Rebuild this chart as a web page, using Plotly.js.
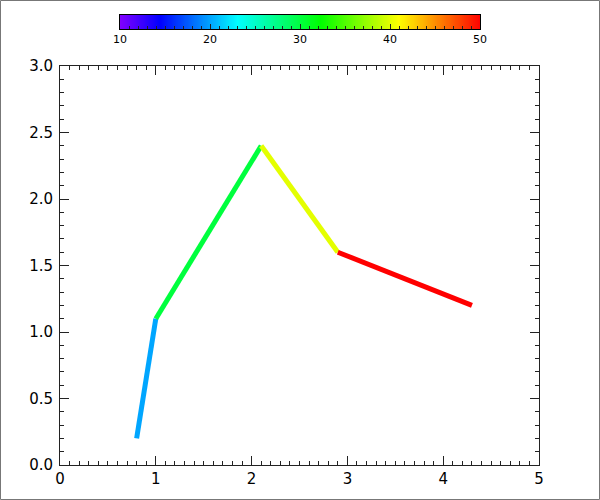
<!DOCTYPE html>
<html>
<head>
<meta charset="utf-8">
<script src="https://cdn.plot.ly/plotly-3.0.1.min.js"></script>
<style>html,body{margin:0;padding:0;background:#fff;}#chart{width:600px;height:500px;}</style>
</head>
<body>
<div id="chart"></div>
<script>
// Data
const xPoints = [0.8, 1.0, 2.1, 2.9, 4.3];
const yPoints = [0.2, 1.1, 2.4, 1.6, 1.2];
const segmentValues = [20, 30, 40, 50];
const cbarMin = 10, cbarMax = 50;
const cbarTicks = [10, 20, 30, 40, 50];

const colorscale = [
  [0.0, '#8000ff'],
  [0.11, '#0000ff'],
  [0.325, '#00ffff'],
  [0.556, '#00ff00'],
  [0.773, '#ffff00'],
  [1.0, '#ff0000']
];

function hexToRgb(h){ return [parseInt(h.slice(1,3),16), parseInt(h.slice(3,5),16), parseInt(h.slice(5,7),16)]; }
function colorFor(v){
  let t = (v - cbarMin) / (cbarMax - cbarMin);
  t = Math.max(0, Math.min(1, t));
  for (let i = 0; i < colorscale.length - 1; i++){
    const [a, ca] = colorscale[i], [b, cb] = colorscale[i+1];
    if (t >= a && t <= b){
      const f = (t - a) / (b - a);
      const A = hexToRgb(ca), B = hexToRgb(cb);
      const c = A.map((x, k) => Math.round(x + (B[k] - x) * f));
      return 'rgb(' + c.join(',') + ')';
    }
  }
  return colorscale[colorscale.length-1][1];
}

const traces = [];
for (let i = 0; i < segmentValues.length; i++){
  traces.push({
    type: 'scatter', mode: 'lines',
    x: [xPoints[i], xPoints[i+1]],
    y: [yPoints[i], yPoints[i+1]],
    line: {color: colorFor(segmentValues[i]), width: 5},
    hoverinfo: 'skip', showlegend: false,
    xaxis: 'x', yaxis: 'y'
  });
}

// colour bar as a heatmap strip
const cbX = [], cbZ = [];
for (let v = cbarMin; v <= cbarMax + 1e-9; v += 0.25){ cbX.push(v); cbZ.push(v); }
traces.push({
  type: 'heatmap', x: cbX, y: [0], z: [cbZ],
  colorscale: colorscale, zmin: cbarMin, zmax: cbarMax,
  zsmooth: 'best', showscale: false, hoverinfo: 'skip',
  xaxis: 'x2', yaxis: 'y2'
});

const font = {family: 'DejaVu Sans, sans-serif', size: 15, color: '#000'};
const H = 450, T = 15;
const layout = {
  width: 600, height: 500,
  margin: {l: 60, r: 61, t: T, b: 35},
  paper_bgcolor: '#fff', plot_bgcolor: '#fff',
  font: font,
  showlegend: false,
  xaxis: {
    domain: [0, 1], anchor: 'y',
    range: [0, 5], dtick: 1, tick0: 0,
    showgrid: false, zeroline: false,
    showline: true, linecolor: '#222', linewidth: 1, mirror: 'allticks',
    ticks: 'inside', ticklen: 9, tickcolor: '#222', tickwidth: 1,
    minor: {dtick: 0.1, tick0: 0, ticks: 'inside', ticklen: 4, tickcolor: '#222', showgrid: false},
    tickfont: font
  },
  yaxis: {
    domain: [0, 399 / H], anchor: 'x',
    range: [0, 3], dtick: 0.5, tick0: 0, tickformat: '.1f',
    showgrid: false, zeroline: false,
    showline: true, linecolor: '#222', linewidth: 1, mirror: 'allticks',
    ticks: 'inside', ticklen: 9, tickcolor: '#222', tickwidth: 1,
    ticklabelstandoff: 3,
    minor: {dtick: 0.1, tick0: 0, ticks: 'inside', ticklen: 4, tickcolor: '#222', showgrid: false},
    tickfont: font
  },
  xaxis2: {
    domain: [60 / 479, 420 / 479], anchor: 'y2',
    range: [cbarMin, cbarMax], tickvals: cbarTicks, ticktext: cbarTicks.map(String),
    showgrid: false, zeroline: false,
    showline: true, linecolor: '#000', linewidth: 1, mirror: true,
    ticks: 'inside', ticklen: 5, tickcolor: '#222',
    minor: {dtick: 1, tick0: 10, ticks: 'inside', ticklen: 3, tickcolor: '#222', showgrid: false},
    tickfont: {family: 'DejaVu Sans, sans-serif', size: 11, color: '#000'}
  },
  yaxis2: {
    domain: [(465 - 29) / H, (465 - 15) / H], anchor: 'x2',
    range: [-0.5, 0.5], showticklabels: false, ticks: '',
    showgrid: false, zeroline: false,
    showline: true, linecolor: '#000', linewidth: 1, mirror: true
  },
  shapes: [{
    type: 'rect', xref: 'paper', yref: 'paper',
    x0: (0.5 - 60) / 479, x1: (599.5 - 60) / 479,
    y0: (465 - 499.5) / H, y1: (465 - 0.5) / H,
    line: {color: '#777', width: 1}, fillcolor: 'rgba(0,0,0,0)', layer: 'above'
  }]
};

Plotly.newPlot('chart', traces, layout, {staticPlot: true, displayModeBar: false});
</script>
</body>
</html>
